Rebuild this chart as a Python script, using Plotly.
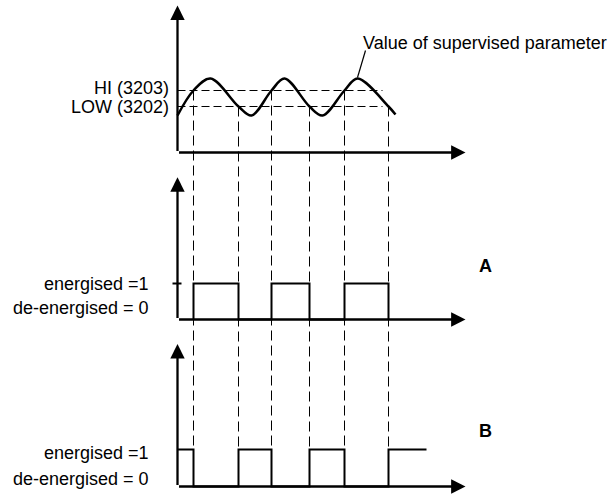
import plotly.graph_objects as go

# ---------------- data ----------------
# supervised parameter, sampled at its turning points and threshold crossings
param_t = [0, 16, 33, 61, 74, 94, 107, 132, 145, 167, 180, 211, 218]
param_v = [37, 62, 74, 46, 37, 62, 74, 46, 37, 62, 74, 46, 38]

hi_level = 62    # HI (3203)
low_level = 46   # LOW (3202)
threshold_end = 205

# instants where the parameter rises through HI / falls through LOW
rise_t = [16, 94, 167]
fall_t = [61, 132, 211]
b_end_t = 249

time_axis_end = 288
param_axis_end = 147
relay_axis_end = [3.95, 3.85]

# ---------------- geometry ----------------
W, H = 615, 495
ORIGIN_X = 177                 # pixel column of the vertical axes
PANEL_BASE = [152, 319, 486]   # pixel row of each panel's time axis
UNIT_PX = [1.0, 36.0, 37.0]    # pixels per value unit in each panel
HALF = 0.5                     # centre thin lines on pixel centres

FONT = "Arial, Liberation Sans, sans-serif"
INK = "#000000"


def yrange(i):
    b, u = PANEL_BASE[i] + HALF, UNIT_PX[i]
    return [-(H - b) / u, b / u]


def paper(px, py):
    return px / W, 1 - py / H


# relay A: energised from HI crossing until LOW crossing
a_t, a_v = [rise_t[0]], [0]
for r, f in zip(rise_t, fall_t):
    a_t += [r, f]
    a_v += [1, 0]

# relay B: the inverse, energised at start and after each LOW crossing
b_t, b_v = [0], [1]
for r, f in zip(rise_t, fall_t):
    b_t += [r, f]
    b_v += [0, 1]
b_t.append(b_end_t)
b_v.append(1)

fig = go.Figure()

# threshold lines
for lvl in (hi_level, low_level):
    fig.add_trace(go.Scatter(x=[0, threshold_end], y=[lvl, lvl], mode="lines",
                             line=dict(color=INK, width=1, dash="8px,4px"),
                             yaxis="y", hoverinfo="skip"))

# vertical guides from each crossing down through both relay panels
bottom_v = (PANEL_BASE[0] - PANEL_BASE[2]) / UNIT_PX[0]
gx, gy = [], []
for t in rise_t:
    gx += [t, t, None]
    gy += [hi_level, bottom_v, None]
for t in fall_t:
    gx += [t, t, None]
    gy += [low_level, bottom_v, None]
fig.add_trace(go.Scatter(x=gx, y=gy, mode="lines",
                         line=dict(color=INK, width=1, dash="10px,5px"),
                         yaxis="y", hoverinfo="skip"))

# supervised parameter
fig.add_trace(go.Scatter(x=param_t, y=param_v, mode="lines",
                         line=dict(color=INK, width=2.5, shape="spline", smoothing=1.0),
                         yaxis="y", hoverinfo="skip"))

# leader line of the parameter label
fig.add_trace(go.Scatter(x=[180, 188], y=[75, 102], mode="lines",
                         line=dict(color=INK, width=1.2), yaxis="y", hoverinfo="skip"))

# relay outputs
fig.add_trace(go.Scatter(x=a_t, y=a_v, mode="lines",
                         line=dict(color=INK, width=2, shape="hv"),
                         yaxis="y2", hoverinfo="skip"))
fig.add_trace(go.Scatter(x=b_t, y=b_v, mode="lines",
                         line=dict(color=INK, width=2, shape="hv"),
                         yaxis="y3", hoverinfo="skip"))

# "energised" tick on relay A axis
fig.add_trace(go.Scatter(x=[-5, 4], y=[1, 1], mode="lines",
                         line=dict(color=INK, width=2), yaxis="y2", hoverinfo="skip"))

# axes with arrowheads
annotations = []
for i, yref in enumerate(["y", "y2", "y3"]):
    top = param_axis_end if i == 0 else relay_axis_end[i - 1]
    for (x, y, ax, ay) in [(0, top, 0, 0), (time_axis_end, 0, 0, 0)]:
        annotations.append(dict(x=x, y=y, ax=ax, ay=ay, xref="x", yref=yref,
                                axref="x", ayref=yref, text="", showarrow=True,
                                arrowhead=2, arrowsize=1.25, arrowwidth=2.3,
                                arrowcolor=INK, standoff=0, startstandoff=0))


def label(text, px, py, xanchor="right", size=18, bold=False):
    x, y = paper(px, py)
    annotations.append(dict(x=x, y=y, xref="paper", yref="paper", text=f"<b>{text}</b>" if bold else text,
                            showarrow=False, xanchor=xanchor, yanchor="middle",
                            font=dict(family=FONT, size=size, color=INK)))


label("HI (3203)", 171, 88)
label("LOW (3202)", 171, 107)
label("Value of supervised parameter", 361, 43, xanchor="left")
label("energised =1", 151, 284)
label("de-energised = 0", 151, 308)
label("energised =1", 151, 453)
label("de-energised = 0", 151, 479)
label("A", 477, 266, xanchor="left", bold=True)
label("B", 477, 431, xanchor="left", bold=True)

fig.update_layout(
    width=W, height=H,
    margin=dict(l=0, r=0, t=0, b=0),
    paper_bgcolor="white", plot_bgcolor="white",
    showlegend=False,
    xaxis=dict(range=[-ORIGIN_X - HALF, W - ORIGIN_X - HALF], visible=False, fixedrange=True),
    yaxis=dict(range=yrange(0), visible=False, fixedrange=True),
    yaxis2=dict(range=yrange(1), visible=False, overlaying="y", fixedrange=True),
    yaxis3=dict(range=yrange(2), visible=False, overlaying="y", fixedrange=True),
    annotations=annotations,
)

fig.write_html("out.html", config={"displayModeBar": False})
